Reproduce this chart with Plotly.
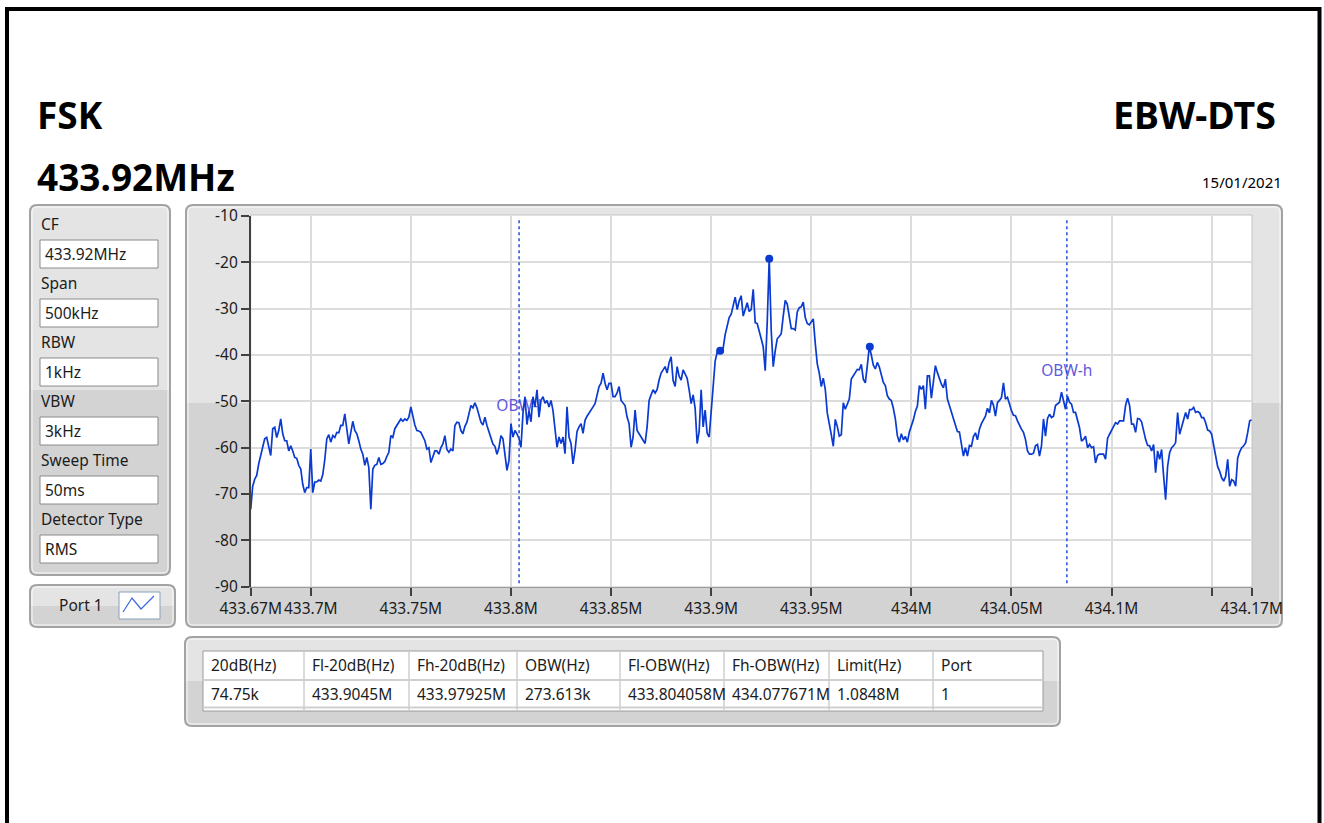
import numpy as np
import plotly.graph_objects as go

W, H = 1324, 823

# ---------------- data ----------------
title_left = "FSK"
title_freq = "433.92MHz"
title_right = "EBW-DTS"
date_text = "15/01/2021"

param_labels = ["CF", "Span", "RBW", "VBW", "Sweep Time", "Detector Type"]
param_values = ["433.92MHz", "500kHz", "1kHz", "3kHz", "50ms", "RMS"]

table_headers = ["20dB(Hz)", "Fl-20dB(Hz)", "Fh-20dB(Hz)", "OBW(Hz)", "Fl-OBW(Hz)", "Fh-OBW(Hz)", "Limit(Hz)", "Port"]
table_values = ["74.75k", "433.9045M", "433.97925M", "273.613k", "433.804058M", "434.077671M", "1.0848M", "1"]

start_hz = 433.67e6
stop_hz = 434.17e6
x_tick_hz = [433.67e6, 433.70e6, 433.75e6, 433.80e6, 433.85e6, 433.90e6, 433.95e6, 434.00e6, 434.05e6, 434.10e6, 434.15e6, 434.17e6]
x_tick_text = ["433.67M", "433.7M", "433.75M", "433.8M", "433.85M", "433.9M", "433.95M", "434M", "434.05M", "434.1M", "", "434.17M"]
y_tick_vals = [-90, -80, -70, -60, -50, -40, -30, -20, -10]
y_tick_text = ["-90", "-80", "-70", "-60", "-50", "-40", "-30", "-20", "-10"]

obw_low_hz = 433.804058e6
obw_high_hz = 434.077671e6
obw_label_text = ["OBW-l", "OBW-h"]
obw_label_level = [-51.2, -43.6]

marker_hz = [433.9045e6, 433.929e6, 433.97925e6]
marker_level = [-39.1, -19.2, -38.2]

# 501 sweep points (1 kHz step), level in dBm
level_dbm = [
    -73.3, -68.3, -66.8, -66.0, -63.5, -61.7, -60.4, -58.1, -57.8, -59.6,
    -61.7, -55.9, -55.6, -57.8, -56.3, -53.8, -57.0, -58.5, -58.5, -60.7,
    -59.6, -60.7, -62.1, -62.3, -63.8, -64.6, -67.9, -69.7, -68.6, -68.6,
    -60.3, -69.7, -67.4, -67.4, -67.0, -67.2, -65.8, -62.6, -58.1, -57.2,
    -58.8, -57.4, -57.8, -56.7, -56.8, -55.2, -55.2, -52.7, -56.7, -59.2,
    -56.7, -54.3, -56.3, -57.0, -58.5, -60.3, -61.4, -63.8, -62.1, -64.3,
    -73.3, -64.6, -63.8, -63.6, -62.1, -63.6, -63.4, -63.0, -61.9, -61.0,
    -57.4, -57.8, -55.9, -55.2, -54.5, -53.8, -54.3, -53.8, -54.1, -53.4,
    -51.2, -53.4, -55.1, -56.3, -56.4, -56.7, -57.5, -58.5, -60.3, -60.0,
    -63.2, -62.1, -60.7, -60.7, -61.4, -60.0, -59.2, -57.4, -60.4, -61.0,
    -60.3, -60.7, -55.2, -54.5, -54.6, -56.3, -57.0, -55.4, -54.5, -52.7,
    -50.9, -51.4, -50.3, -51.4, -52.9, -54.5, -55.1, -53.4, -55.2, -56.5,
    -57.4, -59.2, -59.7, -61.4, -60.0, -57.4, -58.1,
    # 127..
    -61.3, -64.9, -62.8, -54.8, -57.7, -56.3, -57.0, -58.0, -59.9, -52.6,
    -49.0, -55.0, -52.0, -54.4, -49.0, -51.2, -47.5, -53.4, -49.8, -49.0,
    -50.4, -49.8, -51.2, -49.8, -52.0, -56.0, -59.9, -57.7, -59.1, -57.7,
    -61.3, -51.2, -57.7, -59.1, -63.5, -60.6, -56.5, -55.5, -54.8, -56.9,
    -54.1, -53.2, -52.6, -51.9, -51.2, -50.5, -48.6, -46.8, -46.1, -43.9,
    -46.1, -47.5, -46.1, -46.1, -49.0, -49.0, -48.2, -46.8, -49.8, -50.5,
    -50.9, -53.4, -54.8, -59.9, -57.7, -51.9, -56.3, -57.0, -57.7, -58.4,
    -59.1, -55.5, -49.8, -48.6, -47.5, -48.2, -47.5, -45.4, -43.9, -43.2,
    -42.5, -43.9, -41.6, -40.4, -45.5, -46.8, -42.5, -44.6, -45.4, -43.2,
    -44.1, -45.0, -47.5, -50.5, -48.6, -51.5, -59.1, -56.5, -47.5, -55.5,
    -51.9, -56.9, -57.7, -51.2, -46.8, -41.3, -39.4, -39.1, -38.8, -38.5,
    -35.6, -33.5, -31.9, -31.2, -29.3, -27.5, -30.2, -28.3, -27.2, -31.6,
    -30.2, -28.7, -30.6, -30.2, -25.8,
    # 252..
    -33.0, -33.2, -34.6, -36.5, -38.2, -43.4, -33.0, -19.2, -34.7, -42.5,
    -39.1, -36.5, -36.0, -35.4, -31.6, -28.2, -29.0, -31.6, -34.3, -34.3,
    -34.6, -30.7, -29.8, -29.6, -28.6, -31.9, -33.2, -33.5, -32.9, -32.2,
    -37.5, -41.9, -43.9, -46.8, -45.0, -47.4, -52.5, -54.6, -57.2, -59.7,
    -53.9, -55.4, -57.5, -57.2, -50.3, -51.7, -50.5, -49.5, -45.2, -44.5,
    -43.8, -43.1, -43.2, -42.0, -45.2, -46.0, -42.3, -38.2, -40.0, -42.2,
    -43.0, -41.6, -42.6, -44.5, -45.9, -46.6, -48.8, -49.5, -49.8, -51.5,
    -53.8, -57.4, -58.8, -57.0, -58.3, -57.6, -58.8, -56.6, -55.5, -54.0,
    -52.2, -51.0, -46.6, -47.4, -46.6, -51.7, -44.5, -44.5, -49.3, -45.2,
    -42.3, -43.8, -45.2, -46.3, -47.1, -45.2, -49.5, -51.0, -52.2, -54.0,
    -55.0, -56.5, -56.6, -59.5, -61.8, -60.0, -61.8, -59.5, -59.7, -57.6,
    -56.8, -58.3, -56.0, -54.8, -53.9, -53.2, -51.5, -52.5, -49.8, -50.8,
    -53.2, -50.3, -49.8, -49.2, -46.0,
    # 377..
    -49.5, -49.1, -50.6, -52.0, -53.0, -53.1, -54.2, -55.3, -56.0, -56.7,
    -58.2, -60.7, -61.4, -61.4, -61.2, -59.6, -59.3, -61.8, -59.6, -53.8,
    -57.5, -53.7, -52.8, -53.5, -53.2, -50.9, -50.6, -50.2, -48.0, -50.1,
    -51.7, -48.9, -50.2, -50.6, -52.4, -52.4, -54.2, -55.7, -58.6, -58.2,
    -57.5, -60.0, -59.3, -60.0, -59.8, -63.3, -61.7, -61.4, -61.4, -61.4,
    -62.5, -58.0, -57.1, -56.2, -55.4, -54.6, -54.9, -54.2, -54.2, -54.2,
    -50.9, -49.3, -50.9, -54.9, -54.9, -56.7, -53.7, -53.8, -54.4, -56.7,
    -58.2, -59.5, -59.6, -60.7, -59.3, -65.4, -60.7, -62.5, -60.4, -66.1,
    -71.2, -64.0, -61.1, -60.0, -59.6, -58.9, -52.4, -57.1, -55.7, -53.8,
    -52.4, -53.8, -51.8, -51.8, -51.3, -52.4, -52.2, -52.5, -53.5, -53.5,
    -54.6, -56.2, -56.4, -57.1, -59.3, -61.1, -64.1, -65.1, -66.5, -67.2,
    -66.2, -62.5, -68.3, -66.9, -67.2, -68.3, -62.2, -60.9, -60.0, -59.6,
    -58.9, -56.7, -54.2, -54.0,
]
freq_hz = np.linspace(start_hz, stop_hz, len(level_dbm))

# ---------------- style ----------------
TRACE = "#0a3ad0"
UI_FONT = "Noto Sans"
TXT = "#1c1c1c"
LIGHT = "#e4e4e4"
DARK = "#d3d3d3"
EDGE = "#a3a3a3"


def px(x):
    return x / W


def py(y):
    return 1 - y / H


def rpath(x0, y0, x1, y1, r, round_bottom=True):
    s = f"M {px(x0 + r)},{py(y0)} L {px(x1 - r)},{py(y0)} Q {px(x1)},{py(y0)} {px(x1)},{py(y0 + r)} "
    if round_bottom:
        s += f"L {px(x1)},{py(y1 - r)} Q {px(x1)},{py(y1)} {px(x1 - r)},{py(y1)} L {px(x0 + r)},{py(y1)} Q {px(x0)},{py(y1)} {px(x0)},{py(y1 - r)} "
    else:
        s += f"L {px(x1)},{py(y1)} L {px(x0)},{py(y1)} "
    s += f"L {px(x0)},{py(y0 + r)} Q {px(x0)},{py(y0)} {px(x0 + r)},{py(y0)} Z"
    return s


shapes = []
annotations = []


def panel(x0, y0, x1, y1, split):
    shapes.append(dict(type="path", path=rpath(x0, y0, x1, y1, 7), xref="paper", yref="paper",
                       fillcolor=DARK, line=dict(width=0), layer="below"))
    shapes.append(dict(type="path", path=rpath(x0, y0, x1, split, 7, round_bottom=False), xref="paper", yref="paper",
                       fillcolor=LIGHT, line=dict(width=0), layer="below"))
    shapes.append(dict(type="path", path=rpath(x0 + 2, y0 + 2, x1 - 2, y1 - 2, 5), xref="paper", yref="paper",
                       fillcolor="rgba(0,0,0,0)", line=dict(color="rgba(255,255,255,0.85)", width=1), layer="below"))
    shapes.append(dict(type="path", path=rpath(x0, y0, x1, y1, 7), xref="paper", yref="paper",
                       fillcolor="rgba(0,0,0,0)", line=dict(color=EDGE, width=2), layer="below"))


def rect(x0, y0, x1, y1, fill, line_color, lw=1):
    shapes.append(dict(type="rect", xref="paper", yref="paper", x0=px(x0), x1=px(x1), y0=py(y1), y1=py(y0),
                       fillcolor=fill, line=dict(color=line_color, width=lw), layer="below"))


def line(x0, y0, x1, y1, color, lw=1):
    shapes.append(dict(type="line", xref="paper", yref="paper", x0=px(x0), x1=px(x1), y0=py(y0), y1=py(y1),
                       line=dict(color=color, width=lw), layer="below"))


def text(x, y, s, size=15.5, anchor="left", color=TXT, bold=False, family=UI_FONT):
    annotations.append(dict(x=px(x), y=py(y), xref="paper", yref="paper", text=f"<b>{s}</b>" if bold else s,
                            showarrow=False, xanchor=anchor, yanchor="middle",
                            font=dict(family=family, size=size, color=color)))


# panels
panel(30, 205, 170, 575, 390)
panel(30, 585, 175, 627, 606)
panel(186, 205, 1282, 627, 403)
panel(185, 637, 1060, 726, 681)

# plot area background
rect(250.7, 215, 1252, 587, "white", "#c4c4c4", 1)

# parameter boxes
for i, (lab, val) in enumerate(zip(param_labels, param_values)):
    y0 = 240 + 59.0 * i
    text(39, 224 + 59.0 * i, lab)
    rect(40, y0, 158, y0 + 28, "white", "#8a8a8a", 1)
    text(43, y0 + 14, val)

# port box
text(81, 605, "Port 1", anchor="center")
rect(119, 592, 160, 619, "white", "#8aa0bb", 1)
shapes.append(dict(type="path", xref="paper", yref="paper",
                   path=f"M {px(123)},{py(612)} L {px(132)},{py(598)} L {px(141)},{py(609)} L {px(154)},{py(596)}",
                   line=dict(color="#3a66e0", width=1.2), layer="below"))

# table
col_left = [203, 304, 409, 517, 620, 724, 829, 933]
table_right = 1043
rect(203, 651, table_right, 711, "white", "#9a9a9a", 1)
line(203, 680, table_right, 680, "#cfcfcf", 2)
line(203, 707.5, table_right, 707.5, "#cfcfcf", 2)
for cx in col_left[1:]:
    line(cx, 651, cx, 711, "#cfcfcf", 1.5)
for cx, h, v in zip(col_left, table_headers, table_values):
    text(cx + 6, 665, h)
    text(cx + 6, 694, v)

# headings
text(35, 115, title_left, size=37, bold=True, color="#000000")
text(35, 177, title_freq, size=37, bold=True, color="#000000")
text(1278, 115, title_right, size=37.5, anchor="right", bold=True, color="#000000")
text(1284, 182, date_text, size=15, anchor="right", color="#000000")

# outer black frame
shapes.append(dict(type="rect", xref="paper", yref="paper", x0=px(7), x1=px(1319.5), y0=py(840), y1=py(9),
                   line=dict(color="black", width=4), fillcolor="rgba(0,0,0,0)", layer="below"))

# OBW dashed lines (data coords)
for f in (obw_low_hz, obw_high_hz):
    shapes.append(dict(type="line", xref="x", yref="y", x0=f, x1=f, y0=-10.9, y1=-89.3,
                       line=dict(color="#1f4fd8", width=1.5, dash="3px,3px"), layer="above"))

fig = go.Figure()
fig.add_trace(go.Scatter(x=[obw_low_hz, obw_high_hz], y=obw_label_level, mode="text", text=obw_label_text,
                         textposition="middle center",
                         textfont=dict(family=UI_FONT, size=15.5, color="#6258dc"), hoverinfo="skip",
                         showlegend=False))
fig.add_trace(go.Scatter(x=freq_hz, y=level_dbm, mode="lines", line=dict(color=TRACE, width=1.7),
                         showlegend=False))
fig.add_trace(go.Scatter(x=marker_hz, y=marker_level, mode="markers",
                         marker=dict(color=TRACE, size=8), showlegend=False))

fig.update_layout(
    template="none",
    width=W, height=H, autosize=False,
    margin=dict(l=0, r=0, t=0, b=0, pad=0),
    paper_bgcolor="white", plot_bgcolor="rgba(0,0,0,0)",
    shapes=shapes, annotations=annotations,
    xaxis=dict(domain=[px(250.7), px(1251.7)], range=[start_hz, stop_hz], tickvals=x_tick_hz,
               ticktext=x_tick_text, ticks="outside", ticklen=8, tickcolor="#404040", tickwidth=1.5,
               tickangle=0, automargin=False,
               showgrid=True, gridcolor="#dcdcdc", gridwidth=2, zeroline=False,
               showline=True, linecolor="#9a9a9a", linewidth=1,
               tickfont=dict(family=UI_FONT, size=15.5, color=TXT)),
    yaxis=dict(domain=[py(586.7), py(216)], range=[-90, -10], tickvals=y_tick_vals, ticktext=y_tick_text,
               ticks="outside", ticklen=8, tickcolor="#404040", tickwidth=1.5, automargin=False,
               showgrid=True, gridcolor="#dcdcdc", gridwidth=2, zeroline=False,
               showline=True, linecolor="#404040", linewidth=1.5,
               tickfont=dict(family=UI_FONT, size=15.5, color=TXT)),
)

fig.write_html("out.html")
